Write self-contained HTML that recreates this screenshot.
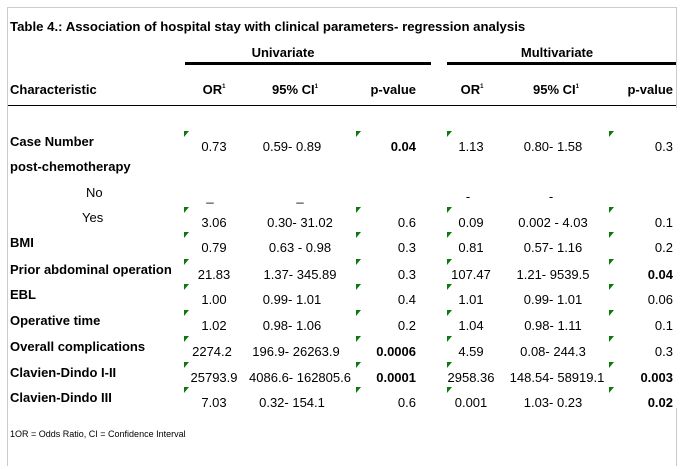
<!DOCTYPE html>
<html><head><meta charset="utf-8"><style>
body{margin:0;width:682px;height:469px;background:#fff;position:relative;overflow:hidden;font-family:"Liberation Sans",Arial,sans-serif;color:#000}
.a{position:absolute;font-size:13px;line-height:16px;white-space:nowrap}
.b{font-weight:bold}
.c{transform:translateX(-50%)}
.r{transform:translateX(-100%)}
.t{position:absolute;width:0;height:0;border-top:6px solid #0a7a0a;border-right:5px solid transparent}
.l{position:absolute;background:#000}
sup{font-size:6px;line-height:0;position:relative;top:-6px;vertical-align:baseline}
</style></head><body>
<div style="position:absolute;left:7px;top:7px;width:668px;height:458px;border:1px solid #ccc;border-bottom:none"></div>
<div style="position:absolute;left:675px;top:108px;width:3px;height:300px;background:#fff"></div>
<div class="a b" style="left:10px;top:19px;font-size:13.2px">Table 4.: Association of hospital stay with clinical parameters- regression analysis</div>
<div class="a b c" style="left:283px;top:45px">Univariate</div>
<div class="a b c" style="left:557px;top:45px">Multivariate</div>
<div class="l" style="left:185px;top:62px;width:246px;height:3px"></div>
<div class="l" style="left:447px;top:62px;width:229px;height:3px"></div>
<div class="a b" style="left:10px;top:82px">Characteristic</div>
<div class="a b c" style="left:214px;top:82px">OR<sup>1</sup></div>
<div class="a b c" style="left:295px;top:82px">95% CI<sup>1</sup></div>
<div class="a b r" style="left:416px;top:82px">p-value</div>
<div class="a b c" style="left:472px;top:82px">OR<sup>1</sup></div>
<div class="a b c" style="left:556px;top:82px">95% CI<sup>1</sup></div>
<div class="a b r" style="left:673px;top:82px">p-value</div>
<div class="l" style="left:8px;top:105px;width:668px;height:1px"></div>

<div class="a b" style="left:10px;top:134px">Case Number</div>
<div class="t" style="left:184px;top:131px"></div><div class="t" style="left:356px;top:131px"></div><div class="t" style="left:447px;top:131px"></div><div class="t" style="left:609px;top:131px"></div>
<div class="a c" style="left:214px;top:139px">0.73</div><div class="a c" style="left:292px;top:139px">0.59- 0.89</div><div class="a b r" style="left:416px;top:139px">0.04</div>
<div class="a c" style="left:471px;top:139px">1.13</div><div class="a c" style="left:553px;top:139px">0.80- 1.58</div><div class="a r" style="left:673px;top:139px">0.3</div>

<div class="a b" style="left:10px;top:159px">post-chemotherapy</div>
<div class="a" style="left:86px;top:185px">No</div>
<div class="a c" style="left:210px;top:189px">_</div><div class="a c" style="left:300px;top:189px">_</div>
<div class="a c" style="left:468px;top:189px">-</div><div class="a c" style="left:551px;top:189px">-</div>

<div class="a" style="left:82px;top:210px">Yes</div>
<div class="t" style="left:184px;top:207px"></div><div class="t" style="left:356px;top:207px"></div><div class="t" style="left:447px;top:207px"></div><div class="t" style="left:609px;top:207px"></div>
<div class="a c" style="left:214px;top:215px">3.06</div><div class="a c" style="left:300px;top:215px">0.30- 31.02</div><div class="a r" style="left:416px;top:215px">0.6</div>
<div class="a c" style="left:471px;top:215px">0.09</div><div class="a c" style="left:553px;top:215px">0.002 - 4.03</div><div class="a r" style="left:673px;top:215px">0.1</div>

<div class="a b" style="left:10px;top:235px">BMI</div>
<div class="t" style="left:184px;top:232px"></div><div class="t" style="left:356px;top:232px"></div><div class="t" style="left:447px;top:232px"></div><div class="t" style="left:609px;top:232px"></div>
<div class="a c" style="left:214px;top:240px">0.79</div><div class="a c" style="left:300px;top:240px">0.63 - 0.98</div><div class="a r" style="left:416px;top:240px">0.3</div>
<div class="a c" style="left:471px;top:240px">0.81</div><div class="a c" style="left:553px;top:240px">0.57- 1.16</div><div class="a r" style="left:673px;top:240px">0.2</div>

<div class="a b" style="left:10px;top:262px">Prior abdominal operation</div>
<div class="t" style="left:184px;top:259px"></div><div class="t" style="left:356px;top:259px"></div><div class="t" style="left:447px;top:259px"></div><div class="t" style="left:609px;top:259px"></div>
<div class="a c" style="left:214px;top:267px">21.83</div><div class="a c" style="left:300px;top:267px">1.37- 345.89</div><div class="a r" style="left:416px;top:267px">0.3</div>
<div class="a c" style="left:471px;top:267px">107.47</div><div class="a c" style="left:553px;top:267px">1.21- 9539.5</div><div class="a b r" style="left:673px;top:267px">0.04</div>

<div class="a b" style="left:10px;top:287px">EBL</div>
<div class="t" style="left:184px;top:284px"></div><div class="t" style="left:356px;top:284px"></div><div class="t" style="left:447px;top:284px"></div><div class="t" style="left:609px;top:284px"></div>
<div class="a c" style="left:214px;top:292px">1.00</div><div class="a c" style="left:292px;top:292px">0.99- 1.01</div><div class="a r" style="left:416px;top:292px">0.4</div>
<div class="a c" style="left:471px;top:292px">1.01</div><div class="a c" style="left:553px;top:292px">0.99- 1.01</div><div class="a r" style="left:673px;top:292px">0.06</div>

<div class="a b" style="left:10px;top:313px">Operative time</div>
<div class="t" style="left:184px;top:310px"></div><div class="t" style="left:356px;top:310px"></div><div class="t" style="left:447px;top:310px"></div><div class="t" style="left:609px;top:310px"></div>
<div class="a c" style="left:214px;top:318px">1.02</div><div class="a c" style="left:292px;top:318px">0.98- 1.06</div><div class="a r" style="left:416px;top:318px">0.2</div>
<div class="a c" style="left:471px;top:318px">1.04</div><div class="a c" style="left:553px;top:318px">0.98- 1.11</div><div class="a r" style="left:673px;top:318px">0.1</div>

<div class="a b" style="left:10px;top:339px">Overall complications</div>
<div class="t" style="left:184px;top:336px"></div><div class="t" style="left:356px;top:336px"></div><div class="t" style="left:447px;top:336px"></div><div class="t" style="left:609px;top:336px"></div>
<div class="a c" style="left:212px;top:344px">2274.2</div><div class="a c" style="left:296px;top:344px">196.9- 26263.9</div><div class="a b r" style="left:416px;top:344px">0.0006</div>
<div class="a c" style="left:471px;top:344px">4.59</div><div class="a c" style="left:553px;top:344px">0.08- 244.3</div><div class="a r" style="left:673px;top:344px">0.3</div>

<div class="a b" style="left:10px;top:365px">Clavien-Dindo I-II</div>
<div class="t" style="left:184px;top:362px"></div><div class="t" style="left:356px;top:362px"></div><div class="t" style="left:447px;top:362px"></div><div class="t" style="left:609px;top:362px"></div>
<div class="a c" style="left:214px;top:370px">25793.9</div><div class="a c" style="left:300px;top:370px">4086.6- 162805.6</div><div class="a b r" style="left:416px;top:370px">0.0001</div>
<div class="a c" style="left:471px;top:370px">2958.36</div><div class="a c" style="left:557px;top:370px">148.54- 58919.1</div><div class="a b r" style="left:673px;top:370px">0.003</div>

<div class="a b" style="left:10px;top:390px">Clavien-Dindo III</div>
<div class="t" style="left:184px;top:387px"></div><div class="t" style="left:356px;top:387px"></div><div class="t" style="left:447px;top:387px"></div><div class="t" style="left:609px;top:387px"></div>
<div class="a c" style="left:214px;top:395px">7.03</div><div class="a c" style="left:292px;top:395px">0.32- 154.1</div><div class="a r" style="left:416px;top:395px">0.6</div>
<div class="a c" style="left:471px;top:395px">0.001</div><div class="a c" style="left:553px;top:395px">1.03- 0.23</div><div class="a b r" style="left:673px;top:395px">0.02</div>

<div class="a" style="left:10px;top:428px;font-size:9px;line-height:12px">1OR = Odds Ratio, CI = Confidence Interval</div>
</body></html>
